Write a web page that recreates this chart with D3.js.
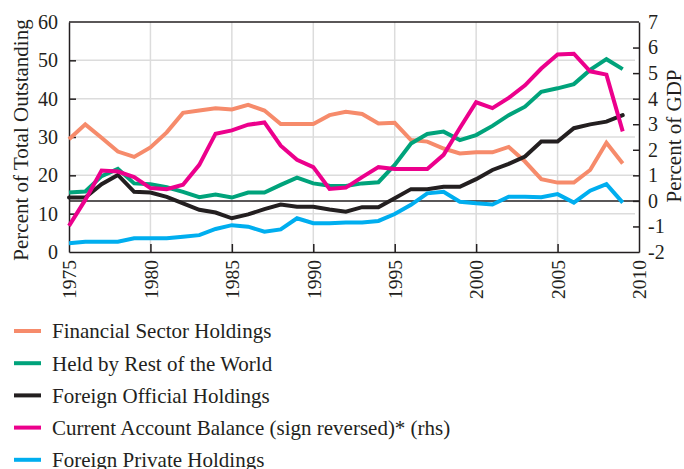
<!DOCTYPE html>
<meta charset="utf-8">
<style>
    body { margin: 0; background: #fff; }
    text { font-family: "Liberation Serif", "DejaVu Serif", serif; fill: #231f20; }
    .grid line { stroke: #dcdcdc; stroke-width: 1.5px; }
    .series { fill: none; stroke-width: 4px; }
</style>
<svg width="684" height="469"></svg>
<script src="https://d3js.org/d3.v7.min.js"></script>
<script>

    var years = d3.range(1975, 2010);

    var financial = [29.4, 33.3, 29.8, 26.2, 24.8, 27.3, 31.2, 36.3, 36.9, 37.5, 37.2, 38.4, 36.9, 33.4, 33.4,
        33.4, 35.7, 36.6, 36.0, 33.5, 33.7, 29.2, 28.8, 27.0, 25.7, 26.0, 26.0, 27.4, 23.6, 19.0, 18.1, 18.1,
        21.4, 28.5, 23.1];
    var restOfWorld = [15.5, 15.8, 19.8, 21.7, 17.9, 17.7, 16.9, 15.7, 14.3, 15.0, 14.2, 15.5, 15.5, 17.5, 19.4,
        17.9, 17.3, 17.2, 17.9, 18.2, 22.7, 28.3, 30.8, 31.4, 29.2, 30.5, 32.9, 35.7, 37.9, 41.8, 42.7, 43.8,
        47.5, 50.3, 47.7];
    var official = [14.2, 14.2, 17.7, 20.1, 15.7, 15.5, 14.4, 12.7, 11.0, 10.3, 8.8, 9.8, 11.2, 12.4, 11.8,
        11.8, 11.1, 10.5, 11.7, 11.7, 14.0, 16.4, 16.4, 17.0, 17.0, 19.0, 21.4, 23.0, 24.9, 28.8, 28.8, 32.3,
        33.3, 34.0, 35.7];
    var currentAccount = [-0.98, 0.04, 1.19, 1.15, 0.93, 0.5, 0.46, 0.63, 1.41, 2.63, 2.76, 2.98, 3.07, 2.16, 1.61,
        1.32, 0.47, 0.52, 0.93, 1.32, 1.25, 1.25, 1.25, 1.8, 2.85, 3.86, 3.63, 4.03, 4.52, 5.18, 5.73, 5.76,
        5.07, 4.94, 2.72];
    var privateHold = [2.3, 2.7, 2.7, 2.7, 3.6, 3.6, 3.6, 4.0, 4.4, 6.0, 7.0, 6.6, 5.3, 5.9, 8.8,
        7.5, 7.5, 7.7, 7.7, 8.1, 9.9, 12.3, 15.3, 15.7, 13.1, 12.7, 12.4, 14.4, 14.4, 14.3, 15.1, 12.9,
        16.0, 17.7, 12.9];

    var leftTicks = [0, 10, 20, 30, 40, 50, 60];
    var rightTicks = [-2, -1, 0, 1, 2, 3, 4, 5, 6, 7];
    var xTicks = [1975, 1980, 1985, 1990, 1995, 2000, 2005, 2010];

    var seriesNames = ["Financial Sector Holdings", "Held by Rest of the World", "Foreign Official Holdings",
        "Current Account Balance (sign reversed)* (rhs)", "Foreign Private Holdings"];
    var seriesColors = ["#f68b6b", "#00a37b", "#231f20", "#ec008c", "#00aeef"];

    var svg = d3.select("svg");
    var pLeft = 69, pRight = 639, pTop = 22, pBottom = 252;

    var x = d3.scaleLinear().domain([1975, 2010]).range([pLeft, pRight]);
    var yL = d3.scaleLinear().domain([0, 60]).range([pBottom, pTop]);
    var yR = d3.scaleLinear().domain([-2, 7]).range([pBottom, pTop]);

    // grid
    var grid = svg.append("g").attr("class", "grid");
    grid.selectAll(".gx").data(xTicks.slice(1, -1)).enter().append("line")
        .attr("x1", function (d) { return x(d); }).attr("x2", function (d) { return x(d); })
        .attr("y1", pTop).attr("y2", pBottom);
    grid.selectAll(".gy").data(leftTicks.slice(1, -1)).enter().append("line")
        .attr("x1", pLeft).attr("x2", pRight - 4)
        .attr("y1", function (d) { return yL(d); }).attr("y2", function (d) { return yL(d); });

    // zero line of rhs
    svg.append("line")
        .attr("x1", pLeft).attr("x2", pRight)
        .attr("y1", yR(0)).attr("y2", yR(0))
        .attr("stroke", "#231f20").attr("stroke-width", 1.5);

    // axes
    var axL = svg.append("g").attr("transform", "translate(" + pLeft + ",0)")
        .call(d3.axisLeft(yL).tickValues(leftTicks).tickSizeInner(-7).tickSizeOuter(0).tickPadding(11));
    var axR = svg.append("g").attr("transform", "translate(" + pRight + ",0)")
        .call(d3.axisRight(yR).tickValues(rightTicks).tickSizeInner(-6).tickSizeOuter(0).tickPadding(9)
            .tickFormat(function (d) { return d < 0 ? "-" + Math.abs(d) : d; }));
    var axB = svg.append("g").attr("transform", "translate(0," + pBottom + ")")
        .call(d3.axisBottom(x).tickValues(xTicks).tickSizeInner(-8).tickSizeOuter(0).tickFormat(d3.format("d")));

    [axL, axR, axB].forEach(function (ax) {
        ax.select(".domain").attr("stroke", "#231f20").attr("stroke-width", 1.5);
        ax.selectAll(".tick line").attr("stroke", "#231f20").attr("stroke-width", 1.5);
        ax.selectAll("text").style("font-size", "20px").attr("fill", "#231f20");
    });
    axB.selectAll(".tick").filter(function (d) { return d === 1975 || d === 2010; }).select("line").remove();
    axL.selectAll(".tick").filter(function (d) { return d === 0 || d === 60; }).select("line").remove();
    axR.selectAll(".tick").filter(function (d) { return d === -2 || d === 7; }).select("line").remove();
    axB.selectAll("text")
        .style("font-size", "19.5px")
        .attr("text-anchor", "end")
        .attr("transform", "rotate(-90)")
        .attr("x", -8).attr("y", 0).attr("dy", "0.35em");

    // top frame
    svg.append("line").attr("x1", pLeft).attr("x2", pRight).attr("y1", pTop).attr("y2", pTop)
        .attr("stroke", "#231f20").attr("stroke-width", 1.5);

    // axis titles
    svg.append("text")
        .attr("transform", "translate(28," + ((pTop + pBottom) / 2 + 3) + ") rotate(-90)")
        .attr("text-anchor", "middle").style("font-size", "21px")
        .text("Percent of Total Outstanding");
    svg.append("text")
        .attr("transform", "translate(681," + 136 + ") rotate(-90)")
        .attr("text-anchor", "middle").style("font-size", "21px")
        .text("Percent of GDP");

    // lines
    var allSeries = [
        { v: financial, s: yL },
        { v: restOfWorld, s: yL },
        { v: official, s: yL },
        { v: currentAccount, s: yR },
        { v: privateHold, s: yL }
    ];

    allSeries.forEach(function (ser, i) {
        var line = d3.line()
            .x(function (d, j) { return x(years[j]); })
            .y(function (d) { return ser.s(d); });
        svg.append("path")
            .datum(ser.v)
            .attr("class", "series")
            .attr("stroke", seriesColors[i])
            .attr("stroke-linecap", i === 2 ? "round" : "butt")
            .attr("d", line);
    });

    // legend
    var legend = svg.append("g").attr("transform", "translate(14,331)");
    var item = legend.selectAll("g").data(seriesNames).enter().append("g")
        .attr("transform", function (d, i) { return "translate(0," + (i * 32.2) + ")"; });
    item.append("line")
        .attr("x1", 0).attr("x2", 27).attr("y1", 0).attr("y2", 0)
        .attr("stroke-width", 4)
        .attr("stroke", function (d, i) { return seriesColors[i]; });
    item.append("text")
        .attr("x", 38).attr("dy", "0.35em")
        .style("font-size", "21px")
        .text(function (d) { return d; });

</script>
